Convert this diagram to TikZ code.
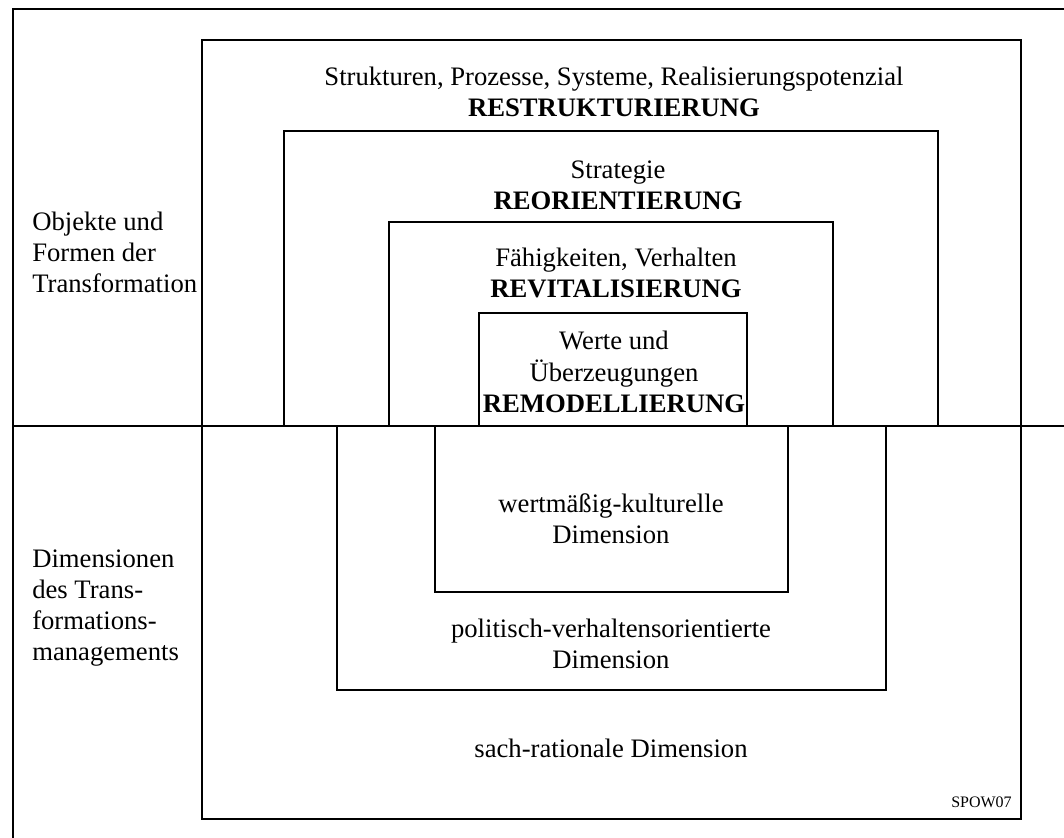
\documentclass[tikz,border=0pt]{standalone}
\usepackage{fontspec}
\setmainfont{Liberation Serif}
\begin{document}
\begin{tikzpicture}[x=0.75pt, y=-0.75pt,
        box/.style={line width=1pt},
        txt/.style={align=center, inner sep=0pt, font=\fontsize{20}{23.5}\selectfont},
        side/.style={align=left, anchor=west, inner sep=0pt, font=\fontsize{20}{23.3}\selectfont}]
        \useasboundingbox (0,0) rectangle (1064,838);

        % Frame
        \draw[line width=1.3pt] (1064,9) -- (13,9) -- (13,838);
        \node[side] (obj) at (32,252) {Objekte und\\Formen der\\Transformation};
        \node[side] (dim) at (32,608) {Dimensionen\\des Trans-\\formations-\\managements};

        % Objekte und Formen
        \draw[box] (202,40) rectangle (1021,819);
        \node[txt] (restr) at (614,92) {Strukturen, Prozesse, Systeme, Realisierungspotenzial\\\textbf{RESTRUKTURIERUNG}};
        \draw[box] (284,131) rectangle (938,426);
        \node[txt] (reor) at (618,185) {Strategie\\\textbf{REORIENTIERUNG}};
        \draw[box] (389,222) rectangle (833,426);
        \node[txt] (revit) at (616,273) {Fähigkeiten, Verhalten\\\textbf{REVITALISIERUNG}};
        \draw[box] (479,313) rectangle (747,426);
        \node[txt] (remod) at (614,372) {Werte und\\Überzeugungen\\\textbf{REMODELLIERUNG}};

        % Dimensionen
        \draw[box] (337,426) rectangle (886,690);
        \node[txt] (polit) at (611,644) {politisch-verhaltensorientierte\\Dimension};
        \draw[box] (435,426) rectangle (788,592);
        \node[txt] (kult) at (611,519) {wertmäßig-kulturelle\\Dimension};
        \node[txt] (sach) at (611,748) {sach-rationale Dimension};
        \node[anchor=base east, inner sep=0pt, font=\fontsize{12}{14}\selectfont] (code) at (1012,807) {SPOW07};

        \draw[line width=1.3pt] (13,426) -- (1064,426);
    \end{tikzpicture}
\end{document}
